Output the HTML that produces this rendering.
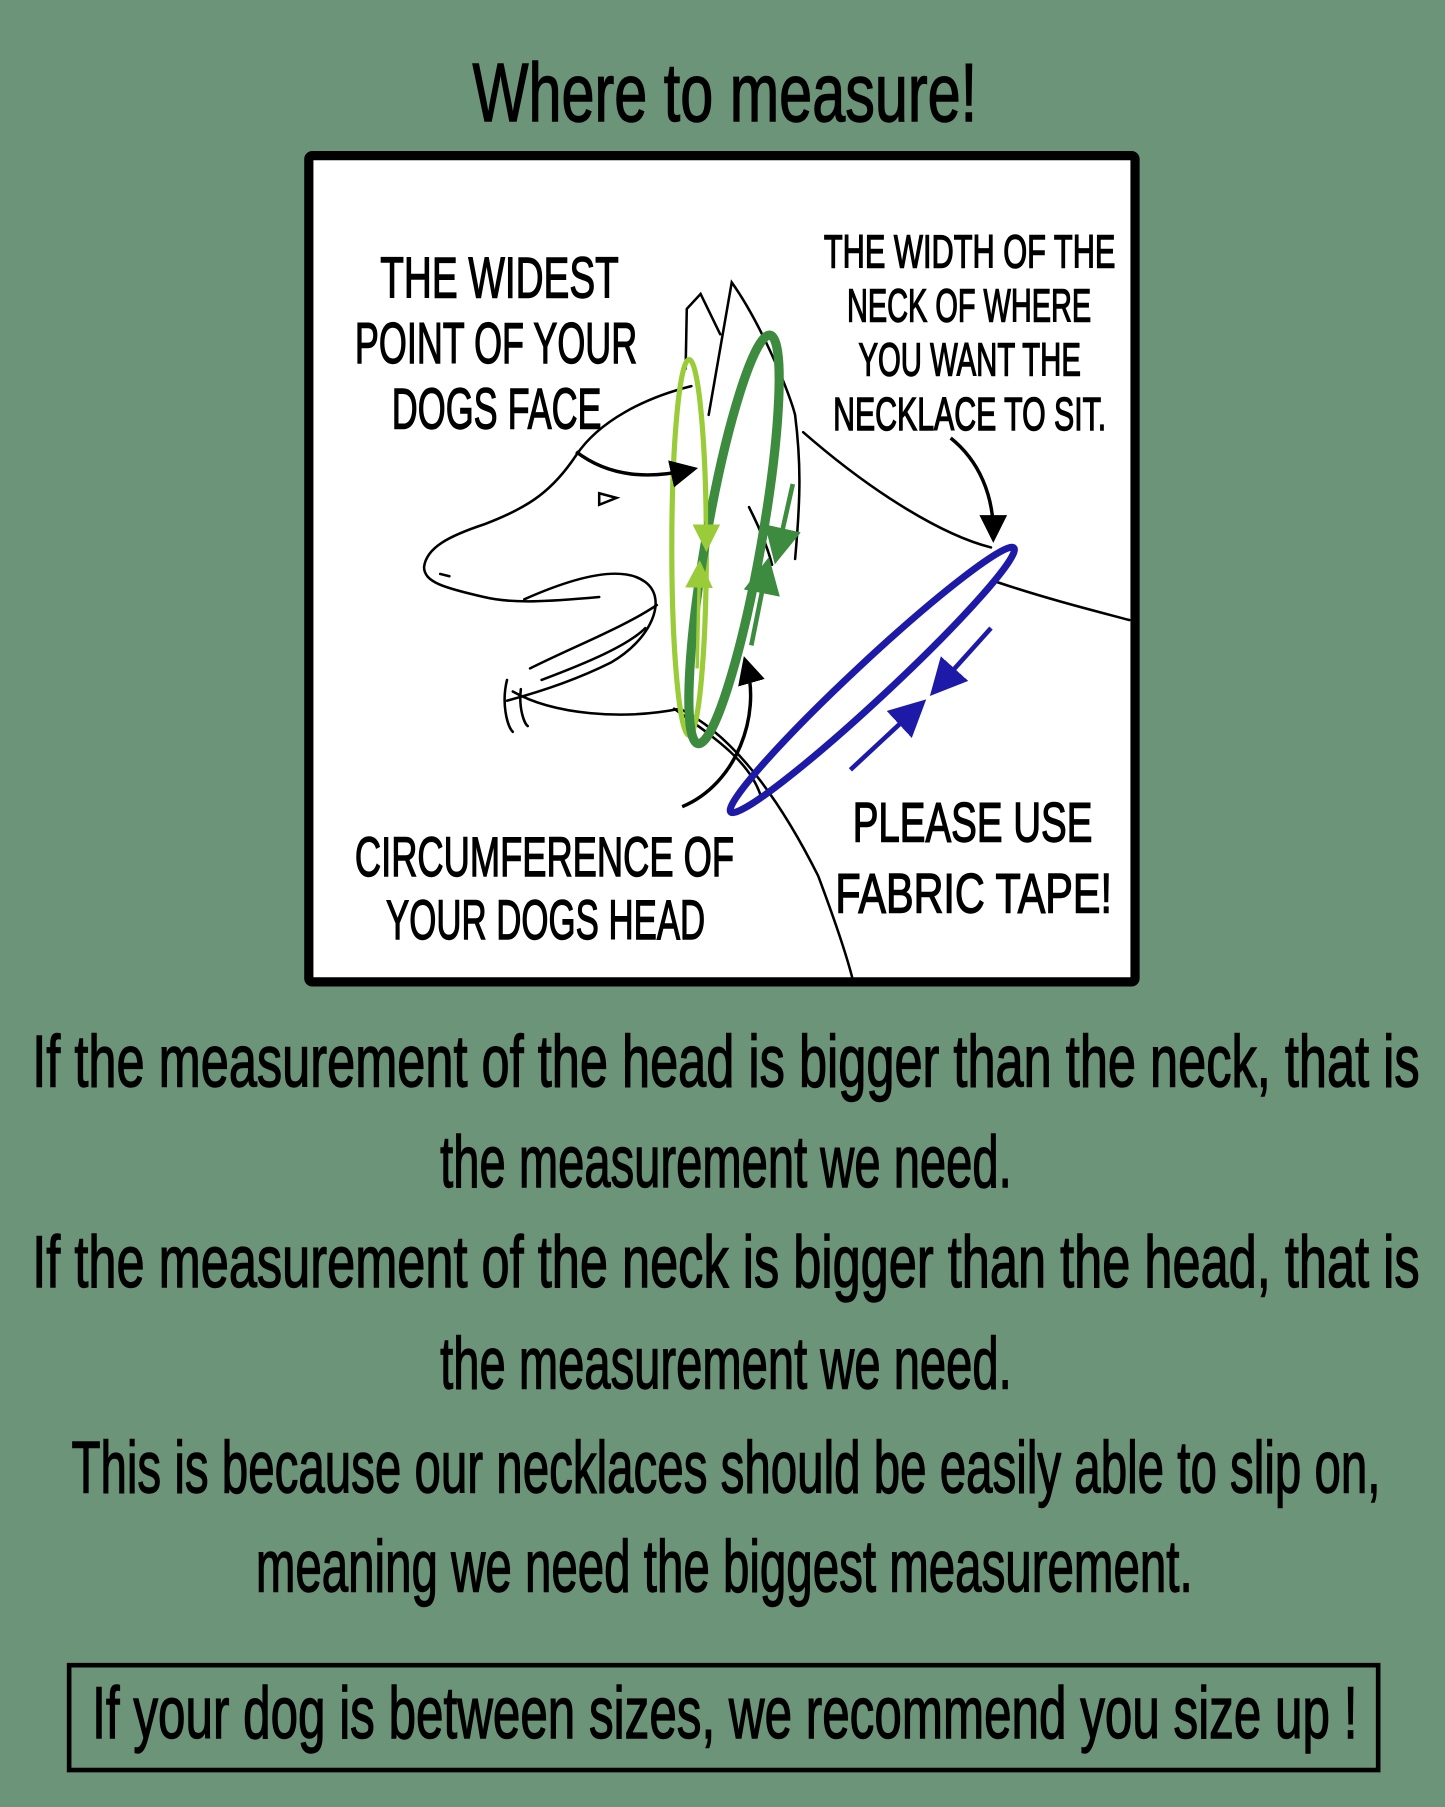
<!DOCTYPE html>
<html><head><meta charset="utf-8"><style>
html,body{margin:0;padding:0;background:#6c9479;}
svg{display:block}
text{font-family:"Liberation Sans",sans-serif;fill:#000;}
.b text{stroke:#000;stroke-width:1.2;}
</style></head><body>
<svg width="1445" height="1807" viewBox="0 0 1254 1568" xmlns="http://www.w3.org/2000/svg">
<rect width="1254" height="1568" fill="#6c9479"/>
<defs>
<marker id="ah" markerWidth="8" markerHeight="8" refX="5" refY="4" orient="auto" markerUnits="strokeWidth"><path d="M0,0 L8,4 L0,8 Z" fill="context-stroke"/></marker>
</defs>
<g class="b"><text x="410" y="105" font-size="72" textLength="438" lengthAdjust="spacingAndGlyphs">Where to measure!</text></g>
<rect x="268" y="135" width="717" height="717" fill="#fff" stroke="#000" stroke-width="8" rx="3"/>

<g fill="none" stroke="#000" stroke-width="2.2" stroke-linecap="round">
<path d="M600,335 C560,345 520,365 500,395 C480,425 460,440 420,455 C390,465 370,475 368,492 C368,505 385,510 420,518 C445,524 475,522 520,518"/>
<path d="M595,320 L596,268 L608,255 L625,290"/>
<path d="M615,360 L635,245 C660,280 685,340 690,360 C695,400 695,430 690,485"/>
<path d="M670,490 C665,470 655,450 650,440"/>
<path d="M697,375 C760,430 820,465 860,475"/>
<path d="M865,505 C910,520 950,530 980,538"/>
<path d="M455,520 C500,500 540,490 560,505 C580,520 565,555 530,575 C500,590 470,600 440,608"/>
<path d="M440,590 C435,610 440,630 445,635 M452,598 C450,615 455,628 458,630"/>
<path d="M460,580 C500,560 540,545 570,525 M470,590 C510,575 545,560 560,545"/>
<path d="M445,600 C480,620 540,625 590,615 C640,640 680,700 710,760 C725,800 735,830 740,850"/>
<path d="M585,615 C620,640 650,660 660,690"/>
<path d="M520,428 L535,432 L520,438 Z"/>
<path d="M382,498 L390,500"/>
</g>

<ellipse cx="598" cy="475" rx="15" ry="163" fill="none" stroke="#9acb38" stroke-width="4.5"/>
<ellipse cx="637" cy="468" rx="24" ry="180" transform="rotate(10 637 468)" fill="none" stroke="#3d8b3e" stroke-width="8"/>
<ellipse cx="757" cy="590" rx="168" ry="16" transform="rotate(-43 757 590)" fill="none" stroke="#1e1aa8" stroke-width="6"/>
<g stroke="#9acb38" stroke-width="3" fill="#9acb38">
<line x1="613" y1="420" x2="613" y2="470" marker-end="url(#ah)"/>
<line x1="605" y1="580" x2="607" y2="495" marker-end="url(#ah)"/>
</g>
<g stroke="#3d8b3e" stroke-width="4" fill="#3d8b3e">
<line x1="688" y1="420" x2="675" y2="478" marker-end="url(#ah)"/>
<line x1="652" y1="560" x2="665" y2="495" marker-end="url(#ah)"/>
</g>
<g stroke="#1e1aa8" stroke-width="4">
<line x1="860" y1="545" x2="815" y2="595" marker-end="url(#ah)"/>
<line x1="738" y1="668" x2="795" y2="615" marker-end="url(#ah)"/>
</g>
<g stroke="#000" stroke-width="3" fill="none">
<path d="M500,392 C530,415 565,415 597,408" marker-end="url(#ah)"/>
<path d="M825,380 C850,400 862,430 862,462" marker-end="url(#ah)"/>
<path d="M592,700 C640,680 660,620 648,578" marker-end="url(#ah)"/>
</g>

<g class="b">
<g font-size="50">
<text x="330" y="258" textLength="207" lengthAdjust="spacingAndGlyphs">THE WIDEST</text>
<text x="308" y="315" textLength="245" lengthAdjust="spacingAndGlyphs">POINT OF YOUR</text>
<text x="340" y="372" textLength="182" lengthAdjust="spacingAndGlyphs">DOGS FACE</text>
</g>
<g font-size="40">
<text x="715" y="232" textLength="253" lengthAdjust="spacingAndGlyphs">THE WIDTH OF THE</text>
<text x="735" y="279" textLength="212" lengthAdjust="spacingAndGlyphs">NECK OF WHERE</text>
<text x="745" y="326" textLength="193" lengthAdjust="spacingAndGlyphs">YOU WANT THE</text>
<text x="723" y="373" textLength="237" lengthAdjust="spacingAndGlyphs">NECKLACE TO SIT.</text>
</g>
<g font-size="48">
<text x="308" y="760" textLength="329" lengthAdjust="spacingAndGlyphs">CIRCUMFERENCE OF</text>
<text x="335" y="815" textLength="277" lengthAdjust="spacingAndGlyphs">YOUR DOGS HEAD</text>
<text x="740" y="730" textLength="208" lengthAdjust="spacingAndGlyphs">PLEASE USE</text>
<text x="725" y="792" textLength="240" lengthAdjust="spacingAndGlyphs">FABRIC TAPE!</text>
</g>
<g font-size="64">
<text x="28" y="943" textLength="1204" lengthAdjust="spacingAndGlyphs">If the measurement of the head is bigger than the neck, that is</text>
<text x="382" y="1030" textLength="496" lengthAdjust="spacingAndGlyphs">the measurement we need.</text>
<text x="28" y="1117" textLength="1204" lengthAdjust="spacingAndGlyphs">If the measurement of the neck is bigger than the head, that is</text>
<text x="382" y="1205" textLength="496" lengthAdjust="spacingAndGlyphs">the measurement we need.</text>
<text x="62" y="1295" textLength="1136" lengthAdjust="spacingAndGlyphs">This is because our necklaces should be easily able to slip on,</text>
<text x="222" y="1381" textLength="813" lengthAdjust="spacingAndGlyphs">meaning we need the biggest measurement.</text>
</g>
<text x="80" y="1508" font-size="64" textLength="1098" lengthAdjust="spacingAndGlyphs">If your dog is between sizes, we recommend you size up !</text>
</g>
<rect x="60" y="1445" width="1136" height="91" fill="none" stroke="#000" stroke-width="4"/>
</svg>
</body></html>
